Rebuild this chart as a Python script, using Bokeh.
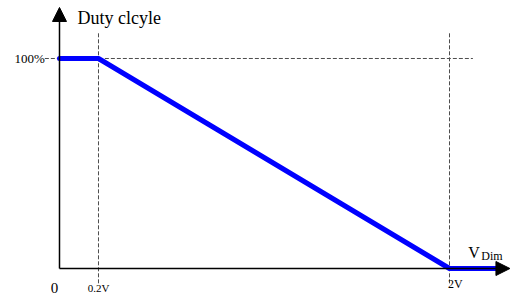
from bokeh.plotting import figure
from bokeh.models import Arrow, NormalHead, Range1d
from bokeh.core.properties import value
from bokeh.embed import file_html
from bokeh.resources import INLINE

# data
curve_x = [0.0, 0.2, 2.0, 2.26]      # V_Dim (V)
curve_y = [100, 100, 0, 0]            # duty cycle (%)
guide_h_x = [-0.075, 2.12]
guide_h_y = [100, 100]
guide_v1_x = [0.2, 0.2]
guide_v2_x = [2.0, 2.0]
guide_v_y = [112, -8]
tick_labels = ["0", "0.2V", "2V"]
tick_pos = [-0.025, 0.2, 2.03]

SERIF = value("'Liberation Serif', 'Times New Roman', serif")

p = figure(width=510, height=295, output_backend="svg", toolbar_location=None,
           x_range=Range1d(-0.30256, 2.31282), y_range=Range1d(-12.857, 127.619),
           min_border=0, outline_line_color=None)
p.axis.visible = False
p.grid.visible = False

# dashed guides
p.line(guide_h_x, guide_h_y, line_color="#4d4d4d", line_dash="4 2", line_width=1)
p.line(guide_v1_x, guide_v_y, line_color="#4d4d4d", line_dash="4 2", line_width=1)
p.line(guide_v2_x, guide_v_y, line_color="#4d4d4d", line_dash="4 2", line_width=1)

# axes with arrows
p.add_layout(Arrow(x_start=0, y_start=0, x_end=0, y_end=124.3, line_width=1.5,
                   end=NormalHead(size=14, fill_color="black", line_color="black")))
p.add_layout(Arrow(x_start=0, y_start=0, x_end=2.31, y_end=0, line_width=1.5,
                   end=NormalHead(size=14, fill_color="black", line_color="black")))

# curve
p.line(curve_x, curve_y, line_color="#0000FF", line_width=5, line_cap="round", line_join="round")

# texts
p.text(x=[0.092], y=[114.5], text=["Duty clcyle"], text_font=SERIF, text_font_size="18px",
       text_baseline="bottom", text_color="black")
p.text(x=[-0.075], y=[100], text=["100%"], text_font=SERIF, text_font_size="13px",
       text_align="right", text_baseline="middle", text_color="black")
p.text(x=[tick_pos[0]], y=[-9.5], text=[tick_labels[0]], text_font=SERIF, text_font_size="15px",
       text_align="center", text_baseline="middle", text_color="black")
p.text(x=[tick_pos[1]], y=[-9.3], text=[tick_labels[1]], text_font=SERIF, text_font_size="11px",
       text_align="center", text_baseline="middle", text_color="black")
p.text(x=[tick_pos[2]], y=[-7.2], text=[tick_labels[2]], text_font=SERIF, text_font_size="12px",
       text_align="center", text_baseline="middle", text_color="black")
p.text(x=[2.096], y=[7.5], text=["V"], text_font=SERIF, text_font_size="16px",
       text_align="left", text_baseline="alphabetic", text_color="black")
p.text(x=[2.163], y=[6.0], text=["Dim"], text_font=SERIF, text_font_size="12px",
       text_align="left", text_baseline="alphabetic", text_color="black")

open("out.html", "w").write(file_html(p, INLINE))
